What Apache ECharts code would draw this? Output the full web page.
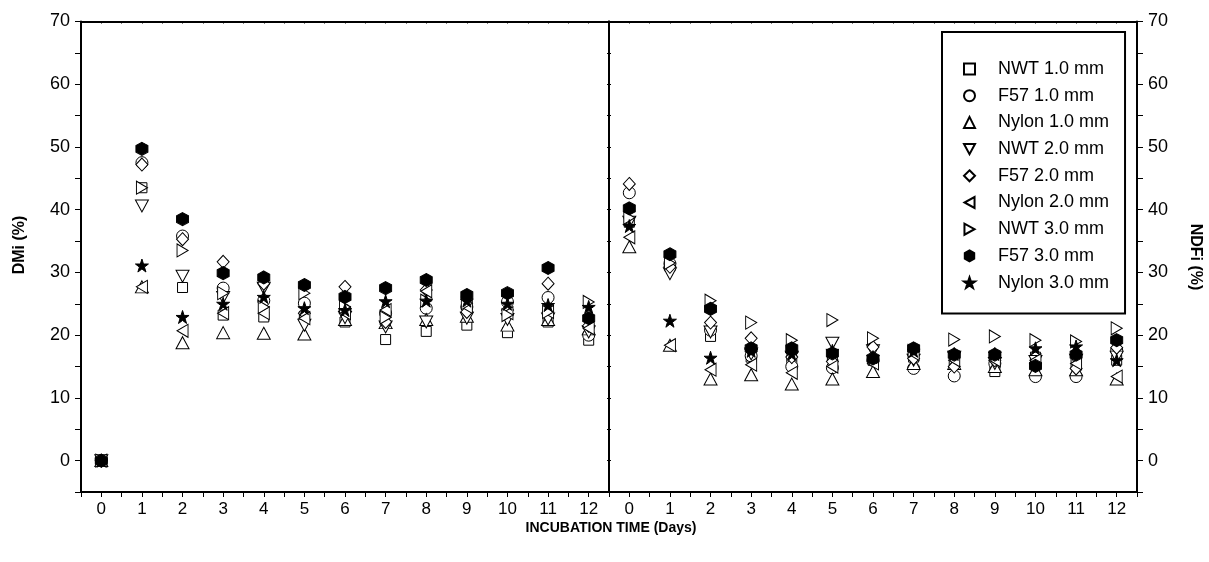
<!DOCTYPE html>
<html>
<head>
<meta charset="utf-8">
<script src="https://cdn.jsdelivr.net/npm/echarts@6/dist/echarts.min.js"></script>
<style>
html,body{margin:0;padding:0;background:#fff;}
#chart{width:1209px;height:562px;}
</style>
</head>
<body>
<div id="chart"></div>
<script>
// ---- data ----
const days = [0,1,2,3,4,5,6,7,8,9,10,11,12];
const seriesNames = ['NWT 1.0 mm','F57 1.0 mm','Nylon 1.0 mm','NWT 2.0 mm','F57 2.0 mm','Nylon 2.0 mm','NWT 3.0 mm','F57 3.0 mm','Nylon 3.0 mm'];

// DMi (%) - left panel
const dmiNWT10   = [0, 43.5, 27.6, 23.2, 22.9, 23.0, 22.1, 19.3, 20.6, 21.6, 20.4, 22.1, 19.2];
const dmiF5710   = [0, 47.5, 35.8, 27.5, 25.5, 25.1, 24.0, 23.5, 24.3, 24.5, 25.3, 26.0, 20.0];
const dmiNylon10 = [0, 27.7, 18.8, 20.4, 20.3, 20.2, 22.5, 22.0, 22.5, 23.0, 21.6, 22.5, 21.0];
const dmiNWT20   = [0, 40.6, 29.4, 26.0, 27.5, 21.6, 22.8, 21.3, 22.1, 22.7, 22.5, 22.6, 20.5];
const dmiF5720   = [0, 47.2, 35.3, 31.7, 28.2, 23.5, 27.7, 22.1, 27.2, 23.7, 24.0, 28.2, 21.5];
const dmiNylon20 = [0, 27.7, 20.7, 23.5, 23.5, 22.7, 23.5, 24.0, 27.0, 24.5, 23.5, 23.7, 21.1];
const dmiNWT30   = [0, 43.5, 33.5, 26.7, 24.5, 26.7, 24.5, 22.8, 25.5, 25.1, 23.2, 23.7, 25.3];
const dmiF5730   = [0, 49.7, 38.5, 29.9, 29.2, 28.0, 26.1, 27.5, 28.8, 26.4, 26.7, 30.7, 22.7];
const dmiNylon30 = [0, 31.1, 22.9, 25.0, 26.1, 24.3, 24.0, 25.4, 25.5, 25.5, 25.0, 24.8, 24.5];

// NDFi (%) - right panel
const ndfNWT10   = [38.0, 31.0, 19.8, 16.5, 16.0, 16.5, 16.0, 16.5, 16.0, 14.2, 16.5, 15.5, 16.0];
const ndfF5710   = [42.7, 31.4, 20.8, 16.7, 15.0, 14.8, 16.0, 14.7, 13.5, 15.5, 13.4, 13.4, 17.6];
const ndfNylon10 = [34.1, 18.4, 13.0, 13.7, 12.2, 13.0, 14.2, 15.5, 15.5, 15.0, 14.5, 14.5, 13.0];
const ndfNWT20   = [38.0, 29.8, 20.5, 17.0, 16.5, 18.7, 17.5, 16.0, 16.5, 15.5, 15.8, 16.0, 16.5];
const ndfF5720   = [44.1, 30.9, 22.0, 19.5, 16.5, 15.8, 18.1, 16.3, 15.0, 16.0, 15.5, 14.7, 18.0];
const ndfNylon20 = [35.6, 18.4, 14.5, 15.3, 14.0, 15.0, 15.5, 17.0, 16.0, 16.0, 16.0, 15.5, 13.4];
const ndfNWT30   = [38.7, 31.5, 25.5, 22.0, 19.2, 22.4, 19.5, 17.5, 19.3, 19.8, 19.2, 19.0, 21.1];
const ndfF5730   = [40.2, 32.9, 24.2, 17.9, 17.9, 17.1, 16.3, 17.9, 16.9, 16.9, 15.1, 16.9, 19.2];
const ndfNylon30 = [37.4, 22.3, 16.4, 17.5, 17.0, 17.5, 16.5, 17.5, 17.0, 17.0, 17.9, 18.2, 16.0];

const dmiValues = [dmiNWT10, dmiF5710, dmiNylon10, dmiNWT20, dmiF5720, dmiNylon20, dmiNWT30, dmiF5730, dmiNylon30];
const ndfValues = [ndfNWT10, ndfF5710, ndfNylon10, ndfNWT20, ndfF5720, ndfNylon20, ndfNWT30, ndfF5730, ndfNylon30];

// ---- styles ----
const TRI_DOWN = 'path://M0,0 L12,0 L6,11 Z';
const TRI_LEFT = 'path://M11,0 L11,12 L0,6 Z';
const TRI_RIGHT = 'path://M0,0 L0,12 L11,6 Z';
const HEX = 'path://M6,0 L12,3.5 L12,10.5 L6,14 L0,10.5 L0,3.5 Z';
const STAR = 'path://M50,0 L61.8,35.5 L99,35.5 L68.9,57.4 L80.4,92.7 L50,70.9 L19.6,92.7 L31.1,57.4 L1,35.5 L38.2,35.5 Z';

const markerStyles = [
  {symbol:'rect', size:[10,10], fill:'#fff'},
  {symbol:'circle', size:[12,12], fill:'#fff'},
  {symbol:'triangle', size:[13,12], fill:'#fff'},
  {symbol:TRI_DOWN, size:[13,12], fill:'#fff'},
  {symbol:'diamond', size:[12,13], fill:'#fff'},
  {symbol:TRI_LEFT, size:[11,13], fill:'#fff'},
  {symbol:TRI_RIGHT, size:[11,13], fill:'#fff'},
  {symbol:HEX, size:[12,13], fill:'#000'},
  {symbol:STAR, size:[13,13], fill:'#000'}
];

const font = '"Liberation Sans", Arial, Helvetica, sans-serif';

function makeSeries(values, gridIdx) {
  return values.map((vals, i) => ({
    name: seriesNames[i],
    type: 'scatter',
    xAxisIndex: gridIdx * 2,
    yAxisIndex: gridIdx * 2,
    symbol: markerStyles[i].symbol,
    symbolSize: markerStyles[i].size,
    itemStyle: {color: markerStyles[i].fill, borderColor: '#000', borderWidth: 1, opacity: 1},
    emphasis: {disabled: true},
    data: days.map((d, k) => [d, vals[k]]),
    z: 3 + i
  }));
}

const xLabelFmt = v => (Math.abs(v - Math.round(v)) < 1e-6 && v >= 0) ? String(Math.round(v)) : '';
const yLabelFmt = v => (v >= 0 && v % 10 === 0) ? String(v) : '';

function xBottom(gridIndex) {
  return {
    gridIndex, type:'value', position:'bottom', min:-0.5, max:12.5, interval:0.5,
    axisLine:{onZero:false, lineStyle:{color:'#000', width:2}},
    axisTick:{inside:false, length:5, lineStyle:{color:'#000', width:1}},
    axisLabel:{formatter:xLabelFmt, color:'#000', fontSize:17, fontFamily:font, margin:9, showMinLabel:true, showMaxLabel:true},
    splitLine:{show:false}
  };
}
function xTop(gridIndex) {
  return {
    gridIndex, type:'value', position:'top', min:-0.5, max:12.5, interval:0.5,
    axisLine:{onZero:false, lineStyle:{color:'#000', width:2}},
    axisTick:{inside:true, length:2, lineStyle:{color:'#000', width:1}},
    axisLabel:{show:false}, splitLine:{show:false}
  };
}
function yAxisCfg(gridIndex, position, labels) {
  return {
    gridIndex, type:'value', position, min:-5, max:70, interval:5,
    axisLine:{onZero:false, lineStyle:{color:'#000', width:2}},
    axisTick:labels ? {inside:false, length:6, lineStyle:{color:'#000', width:1}}
                    : {inside:true, length:2, lineStyle:{color:'#000', width:1}},
    axisLabel:labels ? {formatter:yLabelFmt, color:'#000', fontSize:18, fontFamily:font, margin:11} : {show:false},
    splitLine:{show:false}
  };
}

const chart = echarts.init(document.getElementById('chart'), null, {renderer:'canvas'});
chart.setOption({
  animation:false,
  backgroundColor:'#fff',
  grid:[
    {left:81, top:21.5, width:528, height:470.5, containLabel:false},
    {left:609, top:21.5, width:528, height:470.5, containLabel:false}
  ],
  xAxis:[xBottom(0), xTop(0), xBottom(1), xTop(1)],
  yAxis:[yAxisCfg(0,'left',true), yAxisCfg(0,'right',false), yAxisCfg(1,'left',false), yAxisCfg(1,'right',true)],
  legend:{
    orient:'vertical', left:942, top:32,
    padding:[28, 16, 22, 21],
    borderColor:'#000', borderWidth:2,
    itemWidth:11, itemHeight:11, itemGap:8.7,
    selectedMode:false,
    data: seriesNames,
    textStyle:{color:'#000', fontSize:18, fontFamily:font, lineHeight:18, padding:[0,0,0,18]}
  },
  graphic:[
    {type:'text', x:20, y:245, rotation:Math.PI/2,
      style:{text:'DMi (%)', font:'bold 16px ' + font, fill:'#000', align:'center', verticalAlign:'middle'}},
    {type:'text', x:1195, y:257, rotation:-Math.PI/2,
      style:{text:'NDFi (%)', font:'bold 16px ' + font, fill:'#000', align:'center', verticalAlign:'middle'}},
    {type:'text', x:611, y:528,
      style:{text:'INCUBATION TIME (Days)', font:'bold 14px ' + font, fill:'#000', align:'center', verticalAlign:'middle'}}
  ],
  series:[...makeSeries(dmiValues, 0), ...makeSeries(ndfValues, 1)]
});
</script>
</body>
</html>
